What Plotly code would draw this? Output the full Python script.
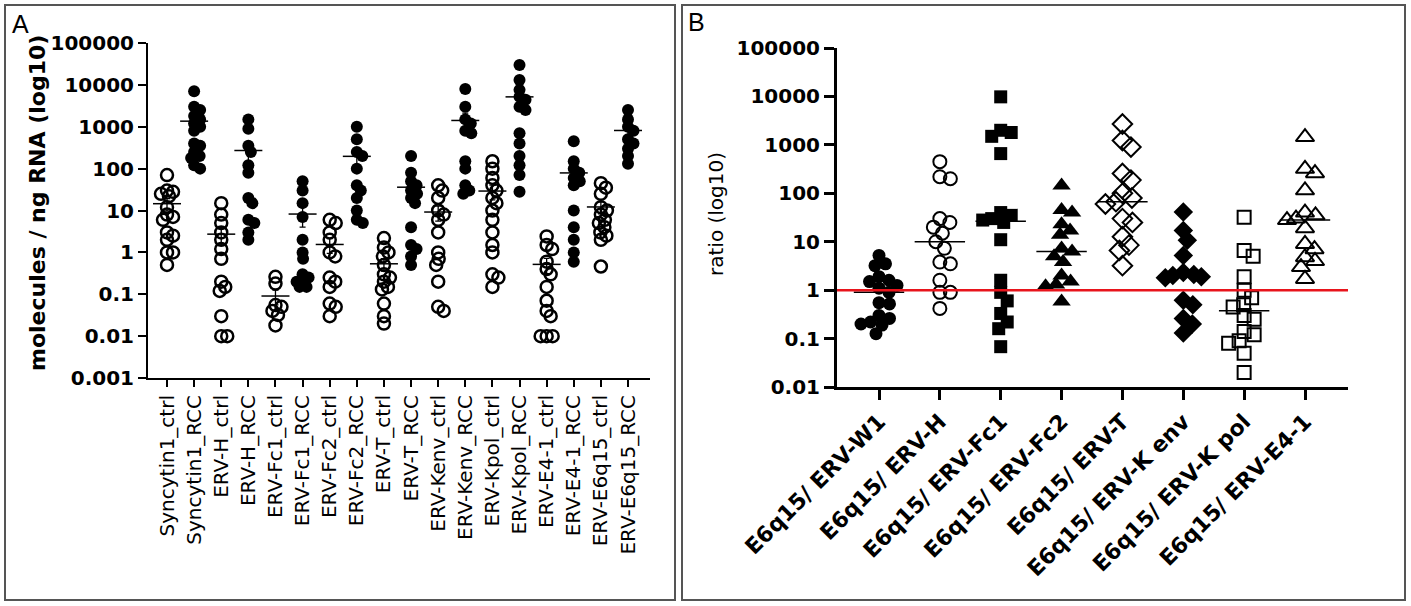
import numpy as np
import plotly.graph_objects as go

W, H = 1411, 606

# ---- panel A data: molecules / ng RNA ----
cats_a = ["Syncytin1_ctrl", "Syncytin1_RCC", "ERV-H_ctrl", "ERV-H_RCC", "ERV-Fc1_ctrl",
          "ERV-Fc1_RCC", "ERV-Fc2_ctrl", "ERV-Fc2_RCC", "ERV-T_ctrl", "ERV-T_RCC",
          "ERV-Kenv_ctrl", "ERV-Kenv_RCC", "ERV-Kpol_ctrl", "ERV-Kpol_RCC", "ERV-E4-1_ctrl",
          "ERV-E4-1_RCC", "ERV-E6q15_ctrl", "ERV-E6q15_RCC"]
syncytin1_ctrl = [70, 30, 28, 25, 22, 12, 8, 7, 6, 3, 2.5, 2, 1, 1, 0.5]
syncytin1_rcc = [7000, 3000, 2500, 1800, 1500, 1200, 1000, 800, 400, 350, 250, 200, 180, 120, 100]
erv_h_ctrl = [15, 8, 5, 3, 2, 1.2, 0.7, 0.2, 0.15, 0.12, 0.03, 0.01, 0.01]
erv_h_rcc = [1500, 900, 350, 250, 120, 80, 20, 15, 6, 5, 3, 2]
erv_fc1_ctrl = [0.26, 0.18, 0.055, 0.05, 0.04, 0.032, 0.018]
erv_fc1_rcc = [50, 30, 15, 7, 2, 1, 0.7, 0.3, 0.2, 0.15, 0.15, 0.2, 0.25]
erv_fc2_ctrl = [6, 5, 3, 2, 1, 0.8, 0.25, 0.2, 0.15, 0.06, 0.05, 0.03]
erv_fc2_rcc = [1000, 500, 250, 200, 100, 40, 30, 20, 10, 6, 5]
erv_t_ctrl = [2.2, 1.3, 1.0, 0.8, 0.5, 0.3, 0.25, 0.2, 0.15, 0.13, 0.06, 0.03, 0.02]
erv_t_rcc = [200, 80, 50, 40, 30, 25, 20, 15, 4, 1.5, 1.2, 0.8, 0.5]
erv_kenv_ctrl = [40, 30, 20, 10, 8, 6, 3, 1, 0.7, 0.5, 0.2, 0.05, 0.04]
erv_kenv_rcc = [8000, 3000, 1500, 1200, 800, 700, 150, 100, 40, 30, 25]
erv_kpol_ctrl = [150, 100, 60, 40, 30, 20, 15, 10, 6, 3, 1.5, 1, 0.3, 0.25, 0.15]
erv_kpol_rcc = [30000, 13000, 7600, 5200, 4400, 3000, 2500, 700, 400, 200, 120, 70, 28]
erv_e41_ctrl = [2.4, 1.5, 1.2, 0.6, 0.4, 0.3, 0.15, 0.07, 0.04, 0.03, 0.01, 0.01, 0.01]
erv_e41_rcc = [450, 150, 100, 80, 60, 50, 40, 10, 4, 2, 1, 0.6]
erv_e6q15_ctrl = [45, 35, 25, 12, 10, 8, 6, 5, 4, 3, 2.5, 2, 0.46]
erv_e6q15_rcc = [2500, 1500, 1000, 800, 500, 400, 300, 200, 130]
vals_a = [syncytin1_ctrl, syncytin1_rcc, erv_h_ctrl, erv_h_rcc, erv_fc1_ctrl, erv_fc1_rcc,
          erv_fc2_ctrl, erv_fc2_rcc, erv_t_ctrl, erv_t_rcc, erv_kenv_ctrl, erv_kenv_rcc,
          erv_kpol_ctrl, erv_kpol_rcc, erv_e41_ctrl, erv_e41_rcc, erv_e6q15_ctrl, erv_e6q15_rcc]

# ---- panel B data: E6q15 ratios ----
cats_b = ["E6q15/ ERV-W1", "E6q15/ ERV-H", "E6q15/ ERV-Fc1", "E6q15/ ERV-Fc2",
          "E6q15/ ERV-T", "E6q15/ ERV-K env", "E6q15/ ERV-K pol", "E6q15/ ERV-E4-1"]
ratio_w1 = [5.2, 3.5, 3.2, 1.9, 1.6, 1.5, 1.25, 1.1, 0.9, 0.55, 0.52, 0.3, 0.26, 0.22, 0.2, 0.19, 0.126]
ratio_h = [450, 220, 200, 30, 25, 20, 15, 10, 7.3, 3.8, 3.5, 1.6, 0.9, 0.9, 0.42]
ratio_fc1 = [9800, 2000, 1800, 1500, 660, 40, 35, 30, 28, 25, 11, 1.6, 0.9, 0.6, 0.33, 0.22, 0.16, 0.068]
ratio_fc2 = [145, 45, 40, 23, 17, 14, 7.2, 6.3, 5, 3.8, 2, 1.5, 1.3, 1.2, 0.58]
ratio_t = [2700, 1230, 900, 256, 187, 100, 80, 67, 60, 30, 25, 12.7, 8.5, 6.6, 3.2]
ratio_kenv = [41, 17, 10.7, 5.2, 2.3, 2.1, 2.0, 1.9, 1.8, 0.62, 0.5, 0.26, 0.2, 0.13]
ratio_kpol = [32, 6.6, 5, 1.9, 1.0, 0.7, 0.5, 0.45, 0.3, 0.25, 0.14, 0.12, 0.09, 0.08, 0.05, 0.02]
ratio_e41 = [1450, 320, 260, 115, 40, 35, 30, 28, 19, 9, 7, 4.8, 4, 3.0, 1.7]
vals_b = [ratio_w1, ratio_h, ratio_fc1, ratio_fc2, ratio_t, ratio_kenv, ratio_kpol, ratio_e41]
threshold_b = 1

ticks_a = [0.001, 0.01, 0.1, 1, 10, 100, 1000, 10000, 100000]
ticks_b = [0.01, 0.1, 1, 10, 100, 1000, 10000, 100000]
ticklabels_a = ["0.001", "0.01", "0.1", "1", "10", "100", "1000", "10000", "100000"]
ticklabels_b = ["0.01", "0.1", "1", "10", "100", "1000", "10000", "100000"]

# pixel geometry of the two plot areas
ax_a = dict(x0=148, x1=650, y0=378, y1=43, first=167, last=628)
ax_b = dict(x0=837, x1=1348, y0=387, y1=48, first=879, last=1305)


def swarm(values, ppd, dmin, cap):
    # simple beeswarm: horizontal offsets in pixels so markers overlap less
    ys = np.log10(values) * ppd
    cands = [0.0]
    for k in np.arange(0.5, cap + 0.01, 0.5):
        cands += [k, -k]
    placed = []
    xs = np.zeros(len(ys))
    for i in np.argsort(-ys):
        best, bestd = 0.0, -1.0
        for c in cands:
            d = min((np.hypot(c - px, ys[i] - py) for px, py in placed), default=1e9)
            if d >= dmin:
                best = c
                break
            if d > bestd:
                best, bestd = c, d
        xs[i] = best
        placed.append((best, ys[i]))
    return xs


def px_x(p):
    return p / W


def px_y(p):
    return 1 - p / H


fig = go.Figure()

# panel A points
sp_a = (ax_a["last"] - ax_a["first"]) / (len(cats_a) - 1)
ppd_a = (ax_a["y0"] - ax_a["y1"]) / 8
for i, v in enumerate(vals_a):
    off = swarm(v, ppd_a, 6.5, 6) / sp_a
    is_ctrl = i % 2 == 0
    fig.add_trace(go.Scatter(
        x=i + off, y=v, mode="markers", xaxis="x", yaxis="y", showlegend=False,
        marker=dict(symbol="circle-open" if is_ctrl else "circle", size=12, color="black",
                    line=dict(width=2.5 if is_ctrl else 0, color="black"))))

means_a = [np.mean(v) for v in vals_a]
sems_a = [np.std(v, ddof=1) / np.sqrt(len(v)) for v in vals_a]
fig.add_trace(go.Scatter(
    x=list(range(len(cats_a))), y=means_a, mode="markers", xaxis="x", yaxis="y",
    showlegend=False,
    marker=dict(symbol="line-ew", size=20, color="black", line=dict(width=1.5, color="black")),
    error_y=dict(type="data", array=sems_a, thickness=1.3, width=3, color="black")))

# panel B points
sym_b = ["circle", "circle-open", "square", "triangle-up", "diamond-open", "diamond",
         "square-open", "triangle-up-open"]
size_b = [13, 13, 13, 16, 15, 15, 13, 16]
sp_b = (ax_b["last"] - ax_b["first"]) / (len(cats_b) - 1)
ppd_b = (ax_b["y0"] - ax_b["y1"]) / 7
for i, v in enumerate(vals_b):
    off = swarm(v, ppd_b, 10.5, 18) / sp_b
    is_open = sym_b[i].endswith("open")
    fig.add_trace(go.Scatter(
        x=i + off, y=v, mode="markers", xaxis="x2", yaxis="y2", showlegend=False,
        marker=dict(symbol=sym_b[i], size=size_b[i], color="black",
                    line=dict(width=2 if is_open else 0, color="black"))))

medians_b = [np.median(v) for v in vals_b]
fig.add_trace(go.Scatter(
    x=list(range(len(cats_b))), y=medians_b, mode="markers", xaxis="x2", yaxis="y2",
    showlegend=False,
    marker=dict(symbol="line-ew", size=36, color="black", line=dict(width=1.5, color="black"))))

# red reference line at ratio 1
xr_b = [(ax_b["x0"] - ax_b["first"]) / sp_b, (len(cats_b) - 1) + (ax_b["x1"] + 5 - ax_b["last"]) / sp_b]
fig.add_trace(go.Scatter(
    x=xr_b, y=[threshold_b, threshold_b], mode="lines", xaxis="x2", yaxis="y2",
    showlegend=False, line=dict(color="#e8141c", width=2.5), cliponaxis=False))

xr_a = [(ax_a["x0"] - ax_a["first"]) / sp_a, (len(cats_a) - 1) + (ax_a["x1"] - ax_a["last"]) / sp_a]
xr_b_axis = [(ax_b["x0"] - ax_b["first"]) / sp_b, (len(cats_b) - 1) + (ax_b["x1"] - ax_b["last"]) / sp_b]

tick_font = dict(family="DejaVu Sans", size=20, color="black", weight="bold")

fig.update_layout(
    width=W, height=H, autosize=False,
    margin=dict(l=0, r=0, t=0, b=0),
    paper_bgcolor="white", plot_bgcolor="white",
    xaxis=dict(domain=[px_x(ax_a["x0"]), px_x(ax_a["x1"])], range=xr_a, anchor="y",
               tickmode="array", tickvals=list(range(len(cats_a))), ticktext=cats_a,
               tickangle=-90, ticks="outside", ticklen=7, tickwidth=2, tickcolor="black",
               showline=True, linewidth=2, linecolor="black", showgrid=False, zeroline=False,
               tickfont=dict(family="DejaVu Sans", size=20, color="black"), automargin=False),
    yaxis=dict(domain=[px_y(ax_a["y0"]), px_y(ax_a["y1"])], type="log", range=[-3, 5],
               anchor="x", tickmode="array", tickvals=ticks_a, ticktext=ticklabels_a,
               ticks="outside", ticklen=8, tickwidth=2, tickcolor="black",
               showline=True, linewidth=2, linecolor="black", showgrid=False, zeroline=False,
               tickfont=tick_font, automargin=False),
    xaxis2=dict(domain=[px_x(ax_b["x0"]), px_x(ax_b["x1"])], range=xr_b_axis, anchor="y2",
                tickmode="array", tickvals=list(range(len(cats_b))), ticktext=cats_b,
                tickangle=-45, ticks="outside", ticklen=10, tickwidth=3, tickcolor="black",
                showline=True, linewidth=3, linecolor="black", showgrid=False, zeroline=False,
                tickfont=dict(family="DejaVu Sans", size=22, color="black", weight="bold"),
                automargin=False),
    yaxis2=dict(domain=[px_y(ax_b["y0"]), px_y(ax_b["y1"])], type="log", range=[-2, 5],
                anchor="x2", tickmode="array", tickvals=ticks_b, ticktext=ticklabels_b,
                ticks="outside", ticklen=10, tickwidth=3, tickcolor="black",
                showline=True, linewidth=3, linecolor="black", showgrid=False, zeroline=False,
                tickfont=tick_font, automargin=False),
    shapes=[
        dict(type="rect", xref="paper", yref="paper", x0=px_x(5), x1=px_x(675),
             y0=px_y(600), y1=px_y(5), line=dict(color="#555555", width=2)),
        dict(type="rect", xref="paper", yref="paper", x0=px_x(682), x1=px_x(1405),
             y0=px_y(600), y1=px_y(5), line=dict(color="#555555", width=2)),
    ],
    annotations=[
        dict(text="A", x=px_x(10), y=px_y(8), xref="paper", yref="paper", showarrow=False,
             xanchor="left", yanchor="top", font=dict(family="Liberation Sans", size=25, color="black")),
        dict(text="B", x=px_x(686), y=px_y(6), xref="paper", yref="paper", showarrow=False,
             xanchor="left", yanchor="top", font=dict(family="Liberation Sans", size=25, color="black")),
        dict(text="molecules / ng RNA (log10)", textangle=-90, x=px_x(37), y=px_y(203),
             xref="paper", yref="paper", showarrow=False, xanchor="center", yanchor="middle",
             font=dict(family="DejaVu Sans", size=22, color="black", weight="bold")),
        dict(text="ratio (log10)", textangle=-90, x=px_x(716), y=px_y(214),
             xref="paper", yref="paper", showarrow=False, xanchor="center", yanchor="middle",
             font=dict(family="DejaVu Sans", size=20, color="black")),
    ],
)

# the page body has a default 8px margin; remove it so the figure sits at the window origin
fig.write_html("out.html", config={"displayModeBar": False},
               post_script="document.body.style.margin='0px';")
